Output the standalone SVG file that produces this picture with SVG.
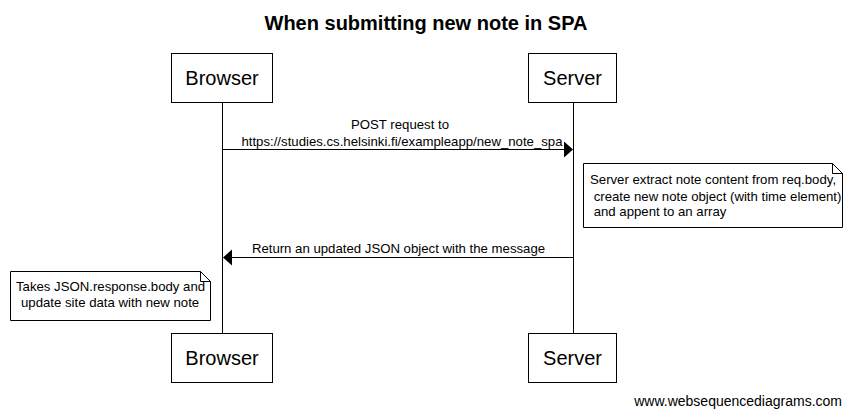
<svg xmlns="http://www.w3.org/2000/svg" width="852" height="416" viewBox="0 0 852 416">
<defs>
<style>
text{font-family:"Liberation Sans",Arial,sans-serif;fill:#000;white-space:pre}
.box{fill:#fff;stroke:#000;stroke-width:1}
.life{stroke:#000;stroke-width:1}
.msg{stroke:#000;stroke-width:1;fill:none}
.head{fill:#000}
.p{font-size:20px;text-anchor:middle}
.m{font-size:13.2px;text-anchor:middle}
.n{font-size:13.2px}
</style>
</defs>
<rect width="852" height="416" fill="#fff"/>
<text x="426" y="30" font-size="20" font-weight="bold" text-anchor="middle">When submitting new note in SPA</text>
<g id="lifelines">
<line class="life" x1="222.5" y1="102" x2="222.5" y2="333"/>
<line class="life" x1="573.5" y1="102" x2="573.5" y2="333"/>
</g>
<g id="browser-top"><rect class="box" x="171.5" y="53.5" width="101" height="49"/><text class="p" x="222" y="85">Browser</text></g>
<g id="server-top"><rect class="box" x="528.5" y="53.5" width="88" height="49"/><text class="p" x="572.5" y="85">Server</text></g>
<g id="browser-bottom"><rect class="box" x="171.5" y="333.5" width="101" height="49"/><text class="p" x="222" y="365">Browser</text></g>
<g id="server-bottom"><rect class="box" x="528.5" y="333.5" width="88" height="49"/><text class="p" x="572.5" y="365">Server</text></g>
<g id="connectors">
<line class="msg" x1="222.5" y1="149.5" x2="564" y2="149.5"/>
<polygon class="head" points="564,141.5 573,149.5 564,157.5"/>
<text class="m" x="400" y="129">POST request to</text>
<text class="m" x="402" y="146">https://studies.cs.helsinki.fi/exampleapp/new_note_spa</text>
<line class="msg" x1="573.5" y1="257.5" x2="232" y2="257.5"/>
<polygon class="head" points="232,249.5 223,257.5 232,265.5"/>
<text class="m" x="398.5" y="253">Return an updated JSON object with the message</text>
</g>
<g id="note-server">
<path class="box" d="M583.5,163.5 H832.5 L842.5,173.5 V227.5 H583.5 Z"/>
<path class="msg" d="M832.5,163.5 V173.5 H842.5"/>
<text class="n" x="590" y="184">Server extract note content from req.body,</text>
<text class="n" x="590" y="201"> create new note object (with time element)</text>
<text class="n" x="590" y="216"> and appent to an array</text>
</g>
<g id="note-browser">
<path class="box" d="M10.5,271.5 H200.5 L210.5,281.5 V320.5 H10.5 Z"/>
<path class="msg" d="M200.5,271.5 V281.5 H210.5"/>
<text class="n" x="16" y="291">Takes JSON.response.body and</text>
<text class="n" x="21" y="307">update site data with new note</text>
</g>
<text x="842" y="406" font-size="14" text-anchor="end">www.websequencediagrams.com</text>
</svg>
